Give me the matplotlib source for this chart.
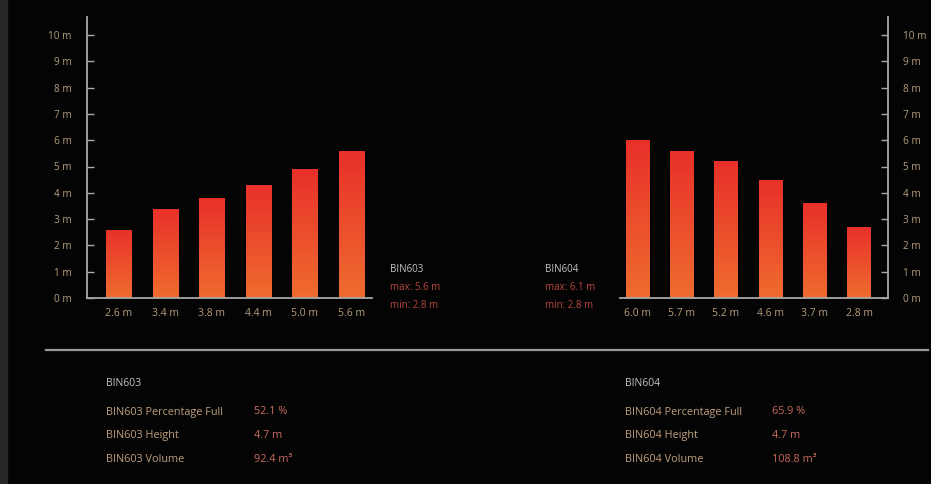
import matplotlib
matplotlib.use("Agg")
import matplotlib.pyplot as plt
import numpy as np
from matplotlib.lines import Line2D
from matplotlib.patches import Rectangle
from matplotlib.colors import LinearSegmentedColormap

# ---- data ----
bin603_labels = ["2.6 m", "3.4 m", "3.8 m", "4.4 m", "5.0 m", "5.6 m"]
bin603_values = [2.6, 3.4, 3.8, 4.3, 4.9, 5.6]
bin604_labels = ["6.0 m", "5.7 m", "5.2 m", "4.6 m", "3.7 m", "2.8 m"]
bin604_values = [6.0, 5.6, 5.2, 4.5, 3.6, 2.7]
y_ticks = [0, 1, 2, 3, 4, 5, 6, 7, 8, 9, 10]
y_tick_labels = [f"{v} m" for v in y_ticks]
bin603_info = ["BIN603", "max: 5.6 m", "min: 2.8 m"]
bin604_info = ["BIN604", "max: 6.1 m", "min: 2.8 m"]
bin603_rows = [("BIN603 Percentage Full", "52.1 %"), ("BIN603 Height", "4.7 m"), ("BIN603 Volume", "92.4 m³")]
bin604_rows = [("BIN604 Percentage Full", "65.9 %"), ("BIN604 Height", "4.7 m"), ("BIN604 Volume", "108.8 m³")]

W, H = 931, 484
FONT = "Open Sans"
BG = "#040404"
TICKC = "#b49c7c"
AXC = "#a8a8a8"
WHITEC = "#c4c4c4"
REDC = "#b8463e"
TANC = "#bf9f7e"
VALC = "#c86a5c"

cmap = LinearSegmentedColormap.from_list("g", ["#ef6c2e", "#e8302a"])

fig = plt.figure(figsize=(W / 100, H / 100), dpi=100, facecolor=BG)
fig.patches.append(Rectangle((0, 0), 7 / W, 1, transform=fig.transFigure, color="#262626", zorder=0))

def px_axes(x0, x1, ytop, ybot):
    return fig.add_axes([x0 / W, 1 - ybot / H, (x1 - x0) / W, (ybot - ytop) / H])

ymax = (298 - 17) / 26.3

def draw(ax, values, labels, xlim, width, side):
    ax.set_facecolor("none")
    x = np.arange(len(values))
    bars = ax.bar(x, values, width=width, facecolor="none", edgecolor="none")
    grad = np.linspace(0, 1, 256).reshape(-1, 1)
    for b in bars:
        bx, by = b.get_x(), b.get_y()
        bw, bh = b.get_width(), b.get_height()
        im = ax.imshow(grad, cmap=cmap, origin="lower", aspect="auto",
                       extent=[bx, bx + bw, by, by + bh], zorder=2)
        im.set_clip_path(b)
    ax.set_xlim(*xlim)
    ax.set_ylim(0, ymax)
    ax.set_xticks(x)
    ax.set_xticklabels(labels, fontsize=7.5, color=TICKC, family=FONT)
    ax.tick_params(axis="x", length=0, pad=7)
    ax.set_yticks(y_ticks)
    ax.set_yticklabels(y_tick_labels, fontsize=7.2, color=TICKC, family=FONT)
    for s in ax.spines.values():
        s.set_visible(False)
    ax.spines["bottom"].set_visible(True)
    ax.spines["bottom"].set_color(AXC)
    ax.spines["bottom"].set_linewidth(1.3)
    if side == "left":
        ax.spines["left"].set_visible(True)
        ax.spines["left"].set_color(AXC)
        ax.spines["left"].set_linewidth(1.3)
        ax.tick_params(axis="y", direction="in", length=5, width=1, color=AXC, pad=11)
    else:
        ax.yaxis.tick_right()
        ax.spines["right"].set_visible(True)
        ax.spines["right"].set_color(AXC)
        ax.spines["right"].set_linewidth(1.3)
        ax.tick_params(axis="y", direction="in", length=5, width=1, color=AXC, pad=11)

ax1 = px_axes(87, 372, 17, 298)
draw(ax1, bin603_values, bin603_labels, (-0.676, 5.44), 0.54, "left")
ax2 = px_axes(620, 888, 17, 298)
draw(ax2, bin604_values, bin604_labels, (-0.39, 5.65), 0.53, "right")

def ftext(x, y, s, color, size=7.0):
    fig.text(x / W, 1 - y / H, s, color=color, fontsize=size, family=FONT, va="center", ha="left")

for (xx, info) in ((390, bin603_info), (545, bin604_info)):
    ftext(xx, 270, info[0], WHITEC)
    ftext(xx, 288, info[1], REDC)
    ftext(xx, 306, info[2], REDC)

fig.add_artist(Line2D([46 / W, 928 / W], [1 - 350 / H, 1 - 350 / H], color="#9a9a9a", lw=1.6, transform=fig.transFigure))

for (xx, vx, head, rows) in ((106, 254, "BIN603", bin603_rows), (625, 772, "BIN604", bin604_rows)):
    ftext(xx, 383, head, WHITEC, 7.5)
    for i, (lab, val) in enumerate(rows):
        yy = 412 + i * 23.5
        ftext(xx, yy, lab, TANC, 7.8)
        ftext(vx, yy, val, VALC, 7.8)

fig.savefig("out.png", dpi=100, facecolor=BG)
